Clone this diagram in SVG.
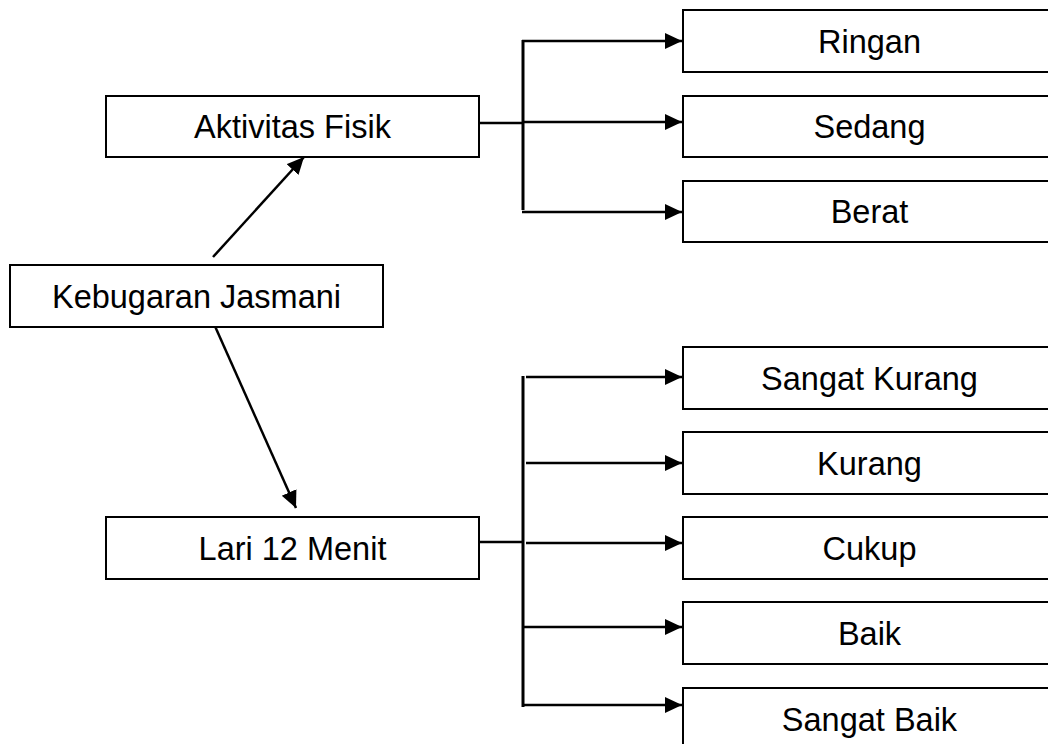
<svg xmlns="http://www.w3.org/2000/svg" width="1048" height="744" viewBox="0 0 1048 744">
<style>
.box{fill:#fff;stroke:#000;stroke-width:2}
.lbl{font-family:"Liberation Sans",Arial,sans-serif;font-size:32.5px;fill:#000;text-anchor:middle}
.ln{stroke:#000;stroke-width:2.5;fill:none}
.vl{stroke:#000;stroke-width:3;fill:none}
</style>
<defs>
<marker id="ah" markerUnits="userSpaceOnUse" markerWidth="19" markerHeight="17" refX="17" refY="8" orient="auto">
<path d="M0,0 L17,8 L0,16 z" fill="#000"/>
</marker>
</defs>
<rect width="1048" height="744" fill="#fff"/>
<g id="connectors">
<line class="ln" x1="213" y1="257" x2="304" y2="157" marker-end="url(#ah)"/>
<line class="ln" x1="214" y1="324" x2="296" y2="508" marker-end="url(#ah)"/>
<line class="ln" x1="479" y1="123" x2="523" y2="123"/>
<line class="vl" x1="523" y1="40" x2="523" y2="210"/>
<line class="ln" x1="522" y1="41" x2="682" y2="41" marker-end="url(#ah)"/>
<line class="ln" x1="523" y1="122" x2="682" y2="122" marker-end="url(#ah)"/>
<line class="ln" x1="522" y1="212" x2="682" y2="212" marker-end="url(#ah)"/>
<line class="ln" x1="479" y1="542" x2="523" y2="542" stroke-width="4"/>
<line class="vl" x1="523" y1="376" x2="523" y2="707"/>
<line class="ln" x1="526" y1="377" x2="682" y2="377" marker-end="url(#ah)"/>
<line class="ln" x1="526" y1="463" x2="682" y2="463" marker-end="url(#ah)"/>
<line class="ln" x1="526" y1="543" x2="682" y2="543" marker-end="url(#ah)"/>
<line class="ln" x1="522" y1="627" x2="682" y2="627" marker-end="url(#ah)"/>
<line class="ln" x1="522" y1="705" x2="682" y2="705" marker-end="url(#ah)"/>
</g>
<g id="kebugaran"><rect class="box" x="10" y="265" width="373" height="62"/><text class="lbl" x="196.5" y="308">Kebugaran Jasmani</text></g>
<g id="aktivitas"><rect class="box" x="106" y="96" width="373" height="61"/><text class="lbl" x="292.5" y="138">Aktivitas Fisik</text></g>
<g id="lari"><rect class="box" x="106" y="517" width="373" height="62"/><text class="lbl" x="292.5" y="560">Lari 12 Menit</text></g>
<g id="ringan"><rect class="box" x="683" y="10" width="373" height="62"/><text class="lbl" x="869.5" y="52.5">Ringan</text></g>
<g id="sedang"><rect class="box" x="683" y="96" width="373" height="61"/><text class="lbl" x="869.5" y="138">Sedang</text></g>
<g id="berat"><rect class="box" x="683" y="181" width="373" height="61"/><text class="lbl" x="869.5" y="223">Berat</text></g>
<g id="sangat-kurang"><rect class="box" x="683" y="347" width="373" height="62"/><text class="lbl" x="869.5" y="389.5">Sangat Kurang</text></g>
<g id="kurang"><rect class="box" x="683" y="432" width="373" height="62"/><text class="lbl" x="869.5" y="474.5">Kurang</text></g>
<g id="cukup"><rect class="box" x="683" y="517" width="373" height="62"/><text class="lbl" x="869.5" y="559.5">Cukup</text></g>
<g id="baik"><rect class="box" x="683" y="602" width="373" height="62"/><text class="lbl" x="869.5" y="644.5">Baik</text></g>
<g id="sangat-baik"><rect class="box" x="683" y="688" width="373" height="62"/><text class="lbl" x="869.5" y="730.5">Sangat Baik</text></g>
</svg>
